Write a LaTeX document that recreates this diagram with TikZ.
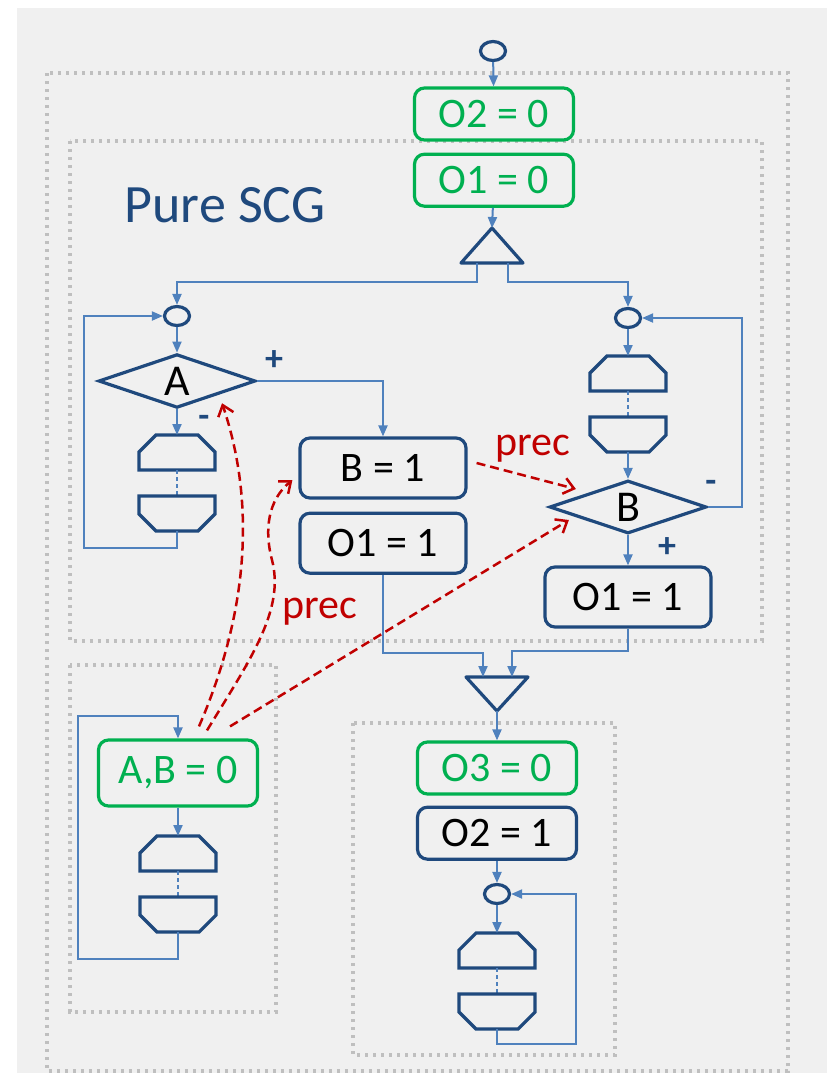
\documentclass[tikz,border=0pt]{standalone}
\usepackage{fontspec}
\setmainfont{Carlito}
\usetikzlibrary{arrows.meta,positioning,calc,shapes.geometric}
\definecolor{scgblue}{RGB}{31,73,125}
\definecolor{flowblue}{RGB}{79,129,189}
\definecolor{initgreen}{RGB}{0,176,80}
\definecolor{precred}{RGB}{192,0,0}
\definecolor{bggray}{RGB}{240,240,240}
\definecolor{dotgray}{RGB}{191,191,191}
\newcommand{\scgfont}{\fontsize{21}{25}\selectfont}

\tikzset{
  pausepair/.pic={
    \draw[shapeln] (-38,35) -- (-38,17) -- (-21,0) -- (21,0) -- (38,17) -- (38,35) -- cycle;
    \draw[flowln, dash pattern=on 2pt off 1.5pt] (0,35) -- (0,61);
    \draw[shapeln] (-38,61) -- (38,61) -- (38,79) -- (21,96) -- (-21,96) -- (-38,79) -- cycle;
    \coordinate (-top) at (0,0);
    \coordinate (-bot) at (0,96);
  }
}

\begin{document}
\begin{tikzpicture}[x=0.5pt, y=-0.5pt,
  shapeln/.style={draw=scgblue, line width=1.6pt},
  flowln/.style={draw=flowblue, line width=1pt},
  flow/.style={flowln, -{Triangle[length=5.5pt,width=4.5pt]}},
  prec/.style={draw=precred, line width=1.25pt, dash pattern=on 4.5pt off 2.5pt,
               -{Straight Barb[length=5pt,width=8pt]}},
  region/.style={draw=dotgray, line width=1.6pt, dash pattern=on 1.6pt off 2.4pt},
  initbox/.style={draw=initgreen, text=initgreen, line width=1.6pt, rounded corners=5pt,
                  minimum width=79.5pt, minimum height=26pt, inner sep=0pt, font=\scgfont},
  actbox/.style={draw=scgblue, text=black, line width=1.6pt, rounded corners=5pt,
                 minimum width=83pt, minimum height=30pt, inner sep=0pt, font=\scgfont},
  cond/.style={diamond, draw=scgblue, line width=1.6pt, minimum width=78.5pt,
               minimum height=26.5pt, inner sep=0pt, font=\fontsize{22}{26}\selectfont},
  joinpt/.style={ellipse, draw=scgblue, line width=1.6pt, minimum width=12.5pt,
                 minimum height=9.5pt, inner sep=0pt},
  signlbl/.style={text=scgblue, font=\fontsize{18}{21}\selectfont\bfseries, inner sep=0pt},
  preclbl/.style={text=precred, font=\scgfont, inner sep=0pt, anchor=base}
]
\fill[white] (0,0) rectangle (827,1073);
\useasboundingbox (0,0) rectangle (827,1073);
\fill[bggray] (17,8) rectangle (827,1073);

% regions
\draw[region] (47,73) rectangle (788,1071);
\draw[region] (70,141) rectangle (762,641);
\draw[region] (70,665) rectangle (276,1012);
\draw[region] (353,723) rectangle (615,1055);

\node[text=scgblue, font=\fontsize{27}{32}\selectfont] (title) at (225,205) {Pure SCG};

% top thread
\node[joinpt] (start) at (493,51) {};
\node[initbox] (o2init) at (494,114) {O2 = 0};
\node[initbox, below=5.5pt of o2init] (o1init) {O1 = 0};
\coordinate (fork) at (492,228);
\coordinate (forkL) at (477,263);
\coordinate (forkR) at (508,263);
\draw[shapeln, line join=round] (fork) -- ++(31,35) -- ++(-62,0) -- cycle;
\draw[flow] (start) -- (o2init);
\draw[flow] (o1init) -- (fork);

% left thread
\node[joinpt] (l1) at (177,316) {};
\node[cond] (condA) at (177,381) {A};
\pic (p1) at (177,435) {pausepair};
\node[signlbl] (plusA) at (274,361) {+};
\node[signlbl] (minusA) at (204,421) {-};
\draw[flow] (forkL) -- ++(0,19) -| (l1);
\draw[flow] (l1) -- (condA);
\draw[flow] (condA) -- (p1-top);
\draw[flow] (p1-bot) -- ++(0,17) -- ++(-93,0) |- (l1);

% middle
\node[actbox] (b1) at (383,468) {B = 1};
\node[actbox, below=6pt of b1] (o1left) {O1 = 1};
\draw[flow] (condA.east) -| (b1);

% right thread
\node[joinpt] (r1) at (628,318) {};
\pic (p2) at (628,356) {pausepair};
\node[cond] (condB) at (628,507) {B};
\node[actbox] (o1right) at (628,597) {O1 = 1};
\node[signlbl] (minusB) at (711,486) {-};
\node[signlbl] (plusB) at (667,548) {+};
\draw[flow] (forkR) -- ++(0,19) -| (r1);
\draw[flow] (r1) -- (p2-top);
\draw[flow] (p2-bot) -- (condB);
\draw[flow] (condB) -- (o1right);
\draw[flow] (condB.east) -- ++(34,0) |- (r1);

% join
\coordinate (join) at (497,711);
\coordinate (joinL) at (483,677);
\coordinate (joinR) at (512,677);
\draw[shapeln, line join=round] (join) -- ++(-31,-34) -- ++(62,0) -- cycle;
\draw[flow] (o1left.south) -- ++(0,78) -| (joinL);
\draw[flow] (o1right.south) -- ++(0,22) -| (joinR);

% bottom thread
\node[initbox] (o3init) at (497,768) {O3 = 0};
\node[actbox, minimum width=79.5pt, minimum height=26pt, below=5pt of o3init] (o2set) {O2 = 1};
\node[joinpt] (c3) at (497,894) {};
\pic (p3) at (497,933) {pausepair};
\draw[flow] (join) -- (o3init);
\draw[flow] (o2set) -- (c3);
\draw[flow] (c3) -- (p3-top);
\draw[flow] (p3-bot) -- ++(0,15) -- ++(79,0) |- (c3);

% environment thread
\node[initbox, minimum height=33pt] (abinit) at (178,773) {A,B = 0};
\pic (p4) at (178,836) {pausepair};
\draw[flow] (abinit) -- (p4-top);
\draw[flow] (p4-bot) -- ++(0,27) -- ++(-100,0) -- ++(0,-243) -| (abinit);

% precedences
\draw[prec] ($(abinit.north)+(21,-12)$) .. controls (245,620) and (258,510) .. ($(condA.south east)+(5,8)$);
\draw[prec] ($(abinit.north)+(29,-8)$) .. controls (250,660) and (285,610) .. (272,560)
            .. controls (264,530) and (268,500) .. ($(b1.west)+(-6,12)$);
\draw[prec] ($(abinit.north)+(52,-12)$) -- ($(condB.west)+(21,13)$);
\draw[prec] ($(b1.east)+(9,-5)$) -- ($(condB.west)+(28,-18)$);
\node[preclbl] (precup) at (533,455) {prec};
\node[preclbl] (preclow) at (320,618) {prec};
\end{tikzpicture}
\end{document}
